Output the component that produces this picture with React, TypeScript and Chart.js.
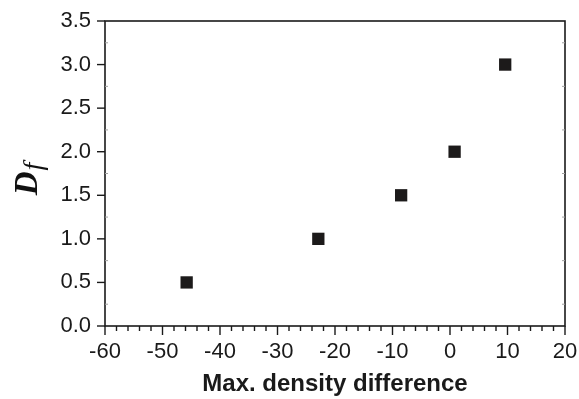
import React, { useEffect, useRef } from "react";
import { Chart, registerables } from "chart.js";

Chart.register(...registerables);

const xValues = [-45.8, -22.9, -8.5, 0.8, 9.6];
const dfValues = [0.5, 1.0, 1.5, 2.0, 3.0];
const xTitle = "Max. density difference";
const yTitleMain = "D";
const yTitleSub = "f";

const framePlugin = {
  id: "frameAndMinor",
  afterDraw(chart: any) {
    const { ctx, chartArea: a, scales } = chart;
    const xs = scales.x;
    const ys = scales.y;
    ctx.save();
    ctx.strokeStyle = "#1a1a1a";
    ctx.lineWidth = 1.6;
    ctx.strokeRect(a.left, a.top, a.right - a.left, a.bottom - a.top);
    ctx.lineWidth = 1.4;
    for (let v = -60; v <= 20; v += 2) {
      const px = xs.getPixelForValue(v);
      const len = v % 10 === 0 ? 9 : 5;
      ctx.beginPath();
      ctx.moveTo(px, a.bottom);
      ctx.lineTo(px, a.bottom + len);
      ctx.stroke();
    }
    for (let v = 0; v <= 3.5001; v += 0.5) {
      const py = ys.getPixelForValue(v);
      ctx.beginPath();
      ctx.moveTo(a.left, py);
      ctx.lineTo(a.left - 8, py);
      ctx.stroke();
    }
    ctx.strokeStyle = "#a0a0a0";
    ctx.lineWidth = 1;
    for (let v = 0.25; v < 3.5; v += 0.5) {
      const py = ys.getPixelForValue(v);
      ctx.beginPath();
      ctx.moveTo(a.left, py);
      ctx.lineTo(a.left + 3, py);
      ctx.moveTo(a.right, py);
      ctx.lineTo(a.right - 3, py);
      ctx.stroke();
    }
    const cy = (a.top + a.bottom) / 2 + 6;
    ctx.translate(37, cy);
    ctx.rotate(-Math.PI / 2);
    ctx.fillStyle = "#111";
    ctx.textBaseline = "alphabetic";
    const fD = "bold italic 33px 'Liberation Serif'";
    const ff = "italic 28px 'Liberation Serif'";
    ctx.font = fD;
    const wD = ctx.measureText(yTitleMain).width;
    ctx.font = ff;
    const wf = ctx.measureText(yTitleSub).width;
    const start = -(wD + wf) / 2;
    ctx.font = fD;
    ctx.fillText(yTitleMain, start, 0);
    ctx.font = ff;
    ctx.fillText(yTitleSub, start + wD + 1, 5);
    ctx.restore();
  },
};

export default function App() {
  const ref = useRef<HTMLCanvasElement | null>(null);
  useEffect(() => {
    document.body.style.margin = "0";
    const canvas = ref.current;
    if (!canvas) return;
    const chart = new Chart(canvas, {
      type: "scatter",
      data: {
        datasets: [
          {
            data: xValues.map((x, i) => ({ x, y: dfValues[i] })),
            pointStyle: "rect",
            pointRadius: 8.7,
            pointHoverRadius: 8.7,
            backgroundColor: "#1c1a1a",
            borderColor: "#1c1a1a",
            borderWidth: 0,
          },
        ],
      },
      options: {
        animation: false,
        responsive: false,
        maintainAspectRatio: false,
        layout: { padding: { top: 21, right: 14, left: 0, bottom: 0 } },
        plugins: {
          legend: { display: false },
          tooltip: { enabled: false },
          title: { display: false },
        },
        scales: {
          x: {
            type: "linear",
            min: -60,
            max: 20,
            afterFit: (s: any) => {
              s.height = 73;
              s.paddingRight = 0;
              s.paddingLeft = 0;
            },
            border: { display: false },
            grid: {
              display: true,
              drawOnChartArea: false,
              drawTicks: true,
              tickLength: 9,
              color: "transparent",
              tickColor: "transparent",
            },
            ticks: {
              stepSize: 10,
              padding: 4,
              color: "#1a1a1a",
              font: { family: "'Liberation Sans', Arial", size: 22 },
              maxRotation: 0,
            },
            title: {
              display: true,
              text: xTitle,
              color: "#1a1a1a",
              padding: { top: 0, bottom: 0 },
              font: { family: "'Liberation Sans', Arial", size: 24, weight: "bold" },
            },
          },
          y: {
            type: "linear",
            min: 0,
            max: 3.5,
            afterFit: (s: any) => {
              s.width = 105;
            },
            border: { display: false },
            grid: {
              display: true,
              drawOnChartArea: false,
              drawTicks: true,
              tickLength: 8,
              color: "transparent",
              tickColor: "transparent",
            },
            ticks: {
              stepSize: 0.5,
              padding: 6,
              color: "#1a1a1a",
              font: { family: "'Liberation Sans', Arial", size: 22 },
              callback: (v: any) => Number(v).toFixed(1),
            },
          },
        },
      },
      plugins: [framePlugin],
    });
    return () => chart.destroy();
  }, []);
  return (
    <div style={{ width: 579, height: 399, background: "#fff" }}>
      <canvas ref={ref} width={579} height={399} style={{ display: "block" }} />
    </div>
  );
}
